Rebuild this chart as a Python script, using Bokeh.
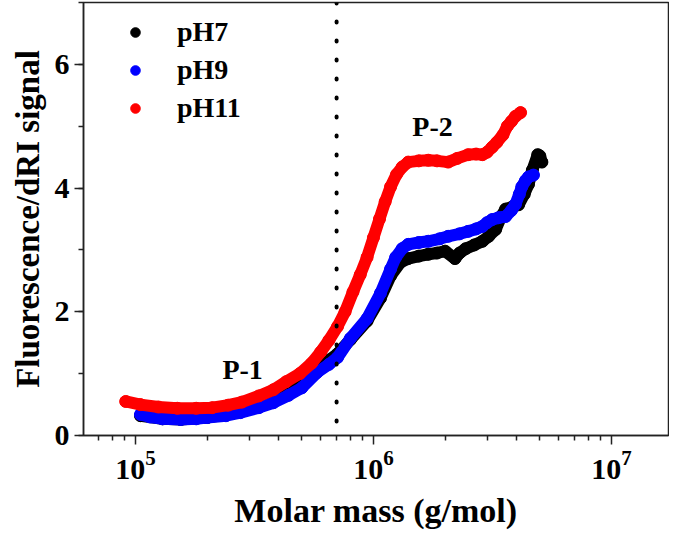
from bokeh.plotting import figure
from bokeh.models import (Range1d, Span, Legend, LegendItem, SingleIntervalTicker,
                          Label, FixedTicker, LogTickFormatter)
from bokeh.embed import file_html
from bokeh.resources import INLINE

# ---- data ----
ph7_x = [1.05e5, 1.3e5, 1.55e5, 2.0e5, 2.76e5, 3.3e5, 3.8e5, 4.4e5, 5.0e5, 5.8e5,
         6.5e5, 7.06e5, 8.0e5, 9.4e5, 1.07e6, 1.18e6, 1.3e6, 1.4e6, 1.55e6, 1.7e6,
         1.85e6, 2.0e6, 2.2e6, 2.3e6, 2.44e6, 2.65e6, 2.87e6, 3.05e6, 3.26e6, 3.45e6,
         3.59e6, 3.85e6, 4.07e6, 4.3e6, 4.48e6, 4.65e6, 4.9e6, 5.0e6, 5.1e6]
ph7_y = [0.32, 0.27, 0.26, 0.29, 0.38, 0.48, 0.58, 0.70, 0.83, 1.06,
         1.22, 1.32, 1.55, 1.85, 2.22, 2.58, 2.80, 2.86, 2.90, 2.93,
         2.95, 2.98, 2.86, 2.95, 3.02, 3.08, 3.14, 3.22, 3.33, 3.55,
         3.66, 3.70, 3.73, 3.90, 4.06, 4.29, 4.54, 4.52, 4.42]

ph9_x = [1.05e5, 1.15e5, 1.3e5, 1.55e5, 1.8e5, 2.0e5, 2.4e5, 2.76e5, 3.3e5, 3.8e5,
         4.4e5, 5.0e5, 5.8e5, 6.5e5, 7.06e5, 8.0e5, 9.4e5, 1.07e6, 1.18e6, 1.24e6,
         1.32e6, 1.4e6, 1.55e6, 1.7e6, 1.9e6, 2.06e6, 2.3e6, 2.5e6, 2.7e6, 2.87e6,
         3.0e6, 3.15e6, 3.35e6, 3.59e6, 3.8e6, 3.95e6, 4.1e6, 4.2e6, 4.35e6, 4.48e6,
         4.7e6]
ph9_y = [0.34, 0.30, 0.27, 0.26, 0.27, 0.29, 0.32, 0.37, 0.45, 0.53,
         0.65, 0.77, 1.02, 1.15, 1.26, 1.57, 1.89, 2.30, 2.69, 2.88,
         3.02, 3.09, 3.12, 3.14, 3.18, 3.22, 3.26, 3.30, 3.34, 3.38,
         3.44, 3.49, 3.52, 3.54, 3.64, 3.74, 3.90, 4.02, 4.12, 4.18,
         4.21]

ph11_x = [9.1e4, 1.05e5, 1.25e5, 1.5e5, 1.8e5, 2.1e5, 2.45e5, 2.8e5, 3.3e5, 3.8e5,
          4.3e5, 4.9e5, 5.5e5, 6.0e5, 6.5e5, 7.06e5, 7.6e5, 8.2e5, 8.8e5, 9.4e5,
          1.0e6, 1.06e6, 1.12e6, 1.18e6, 1.25e6, 1.32e6, 1.4e6, 1.55e6, 1.7e6, 1.85e6,
          2.06e6, 2.25e6, 2.5e6, 2.7e6, 2.87e6, 3.0e6, 3.15e6, 3.3e6, 3.5e6,
          3.65e6, 3.8e6, 3.95e6, 4.15e6]
ph11_y = [0.55, 0.50, 0.46, 0.44, 0.44, 0.45, 0.49, 0.54, 0.64, 0.74,
          0.87, 1.00, 1.17, 1.35, 1.54, 1.76, 2.00, 2.32, 2.60, 2.88,
          3.20, 3.50, 3.78, 4.02, 4.22, 4.34, 4.42, 4.44, 4.45, 4.44,
          4.42, 4.48, 4.54, 4.55, 4.54, 4.58, 4.66, 4.74, 4.86,
          5.00, 5.08, 5.16, 5.22]

series = [("pH7", ph7_x, ph7_y, "#000000"),
          ("pH9", ph9_x, ph9_y, "#0000ff"),
          ("pH11", ph11_x, ph11_y, "#ff0000")]

x_major = [1e5, 1e6, 1e7]
y_ticks_interval = 2
divider_x = 7e5
annotations = [("P-1", 2.82e5, 1.06), ("P-2", 1.77e6, 5.0)]

FONT = "Liberation Serif"

p = figure(width=669, height=531, x_axis_type="log",
           x_range=Range1d(6.05e4, 1.736e7), y_range=Range1d(0, 7),
           output_backend="svg", toolbar_location=None,
           min_border_left=83, min_border_right=1, min_border_top=2,
           min_border_bottom=91)
p.grid.visible = False
p.outline_line_color = "#222222"
p.outline_line_width = 1.5
p.background_fill_color = "white"
p.border_fill_color = "white"

items = []
for name, xs, ys, c in series:
    p.line(xs, ys, line_width=12, color=c, line_join="round", line_cap="round")
    r = p.scatter(xs, ys, size=12, fill_color=c, line_color=c)
    items.append(LegendItem(label=name, renderers=[r]))

minor = [m * 10 ** e for e in range(4, 8) for m in range(2, 10)]
p.xaxis.ticker = FixedTicker(ticks=x_major, minor_ticks=minor)
p.xaxis.formatter = LogTickFormatter()
p.yaxis.ticker = SingleIntervalTicker(interval=y_ticks_interval, num_minor_ticks=2)

for ax in (p.xaxis[0], p.yaxis[0]):
    ax.axis_line_color = "#222222"
    ax.axis_line_width = 1.5
    ax.major_tick_line_color = "#222222"
    ax.major_tick_line_width = 1.5
    ax.minor_tick_line_color = "#222222"
    ax.minor_tick_line_width = 1.5
    ax.major_tick_in = 0
    ax.major_tick_out = 9
    ax.minor_tick_in = 0
    ax.minor_tick_out = 5
    ax.major_label_text_font = FONT
    ax.major_label_text_font_style = "bold"
    ax.major_label_text_font_size = "30px"
    ax.major_label_text_color = "black"
    ax.axis_label_text_font = FONT
    ax.axis_label_text_font_style = "bold"
    ax.axis_label_text_color = "black"

p.xaxis.axis_label_text_font_size = "34px"
p.yaxis.axis_label_text_font_size = "33px"
p.xaxis.axis_label = "Molar mass (g/mol)"
p.yaxis.axis_label = "Fluorescence/dRI signal"
p.xaxis.major_label_standoff = 6
p.xaxis.axis_label_standoff = 10
p.yaxis.major_label_standoff = 5
p.yaxis.axis_label_standoff = 6

p.add_layout(Span(location=divider_x, dimension="height", line_color="black",
                  line_width=4, line_dash="1 18", line_cap="round"))

for txt, lx, ly in annotations:
    p.add_layout(Label(x=lx, y=ly, text=txt, text_font=FONT, text_font_style="bold",
                       text_font_size="28px", text_align="center",
                       text_baseline="alphabetic", text_color="black"))

legend = Legend(items=items, location=(40, 310), border_line_color=None,
                background_fill_alpha=0, padding=0, margin=0, spacing=4,
                glyph_width=24, glyph_height=34, label_height=34, label_standoff=30,
                label_text_font=FONT, label_text_font_style="bold",
                label_text_font_size="28px", label_text_color="black")
p.add_layout(legend)

open("out.html", "w").write(file_html(p, INLINE))
